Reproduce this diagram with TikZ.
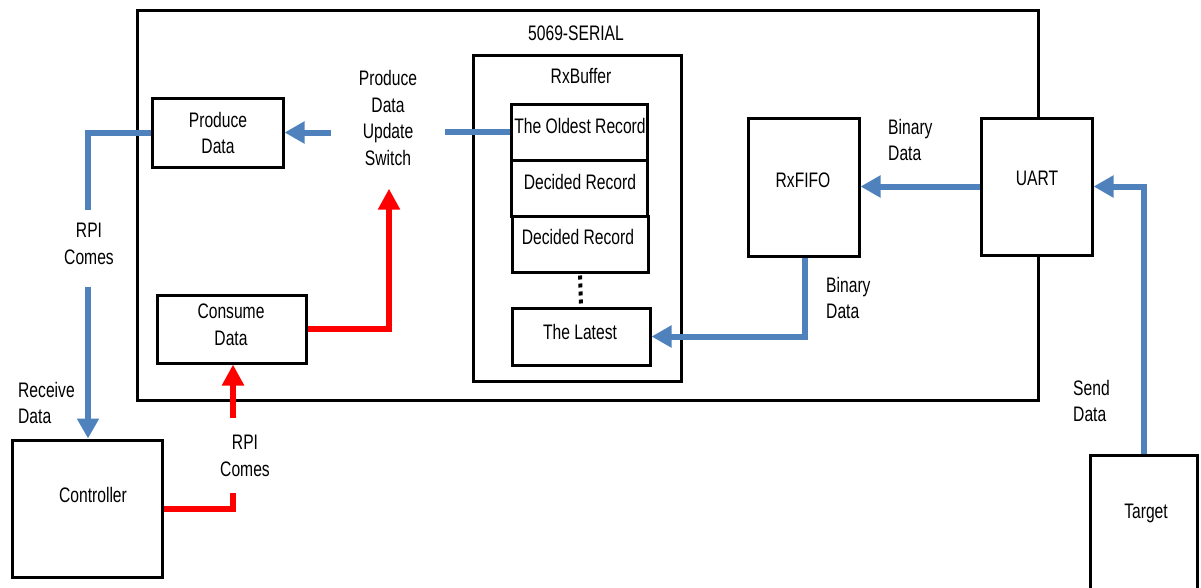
\documentclass[tikz,border=0pt]{standalone}
\usepackage{fontspec}
\setmainfont{Liberation Sans}[FakeStretch=0.745]
\usetikzlibrary{arrows.meta}
\definecolor{cblue}{RGB}{79,129,189}
\definecolor{cred}{RGB}{255,0,0}
\begin{document}
\begin{tikzpicture}[x=1pt,y=-1pt,
  box/.style={draw, line width=3pt, fill=white, inner sep=0pt, rectangle},
  lbl/.style={font=\fontsize{21}{26.5}\selectfont, align=center, inner sep=0pt},
  lbll/.style={lbl, align=left, anchor=west},
  bline/.style={draw=cblue, line width=6pt},
  barrow/.style={bline, -{Triangle[length=20pt,width=21pt]}},
  rline/.style={draw=cred, line width=6pt},
  rarrow/.style={rline, -{Triangle[length=21pt,width=21pt]}}
]
\useasboundingbox (0,0) rectangle (1201,587);
% outer container
\node[draw, line width=3pt, rectangle, inner sep=0pt, minimum width=901pt, minimum height=390pt] (serial) at (587.5,205) {};
\node[lbl] (serialt) at (576,33) {5069-SERIAL};

% boxes
\node[box, minimum width=131pt, minimum height=69pt] (pd) at (217.5,132.5) {};
\node[box, minimum width=149pt, minimum height=68pt] (cd) at (231.5,329) {};
\node[box, minimum width=150pt, minimum height=137pt] (ctrl) at (87,508.5) {};
\node[box, minimum width=208pt, minimum height=326pt] (rxbuf) at (577,218) {};
\node[box, minimum width=136pt, minimum height=56pt] (old) at (579,132) {};
\node[box, minimum width=136pt, minimum height=56pt] (dec1) at (579,188) {};
\node[box, minimum width=136pt, minimum height=56pt] (dec2) at (580,244) {};
\node[box, minimum width=138pt, minimum height=57pt] (latest) at (581,336.5) {};
\node[box, minimum width=111pt, minimum height=138pt] (fifo) at (803.5,187) {};
\node[box, minimum width=111pt, minimum height=137pt] (uart) at (1036.5,186.5) {};
\node[box, minimum width=107pt, minimum height=145pt] (target) at (1143.5,527.5) {};

% box texts
\node[lbl] (pdt) at (218,133) {Produce\\Data};
\node[lbl] (cdt) at (231,325) {Consume\\Data};
\node[lbl] (ctrlt) at (93,495) {Controller};
\node[lbl] (rxbuft) at (581,76) {RxBuffer};
\node[lbl] (oldt) at (580,126) {The Oldest Record};
\node[lbl] (dec1t) at (580,182) {Decided Record};
\node[lbl] (dec2t) at (578,237) {Decided Record};
\node[lbl] (latt) at (580,332) {The Latest};
\node[lbl] (fifot) at (803,180) {RxFIFO};
\node[lbl] (uartt) at (1037,178) {UART};
\node[lbl] (tgtt) at (1146,513) {Target};

% free labels
\node[lbl, minimum width=114pt] (sw) at (388,118) {Produce\\Data\\Update\\Switch};
\node[lbl] (rpi1) at (89,244) {RPI\\Comes};
\node[lbl] (rpi2) at (245,456) {RPI\\Comes};
\node[lbll] (recv) at (18,403) {Receive\\Data};
\node[lbll] (bin1) at (888,140) {Binary\\Data};
\node[lbll] (bin2) at (826,298) {Binary\\Data};
\node[lbll] (send) at (1073,401) {Send\\Data};

% coordinates for split connectors
\coordinate (c1) at (88,210);
\coordinate (c2) at (88,287);
\coordinate (c3) at (233,493);
\coordinate (c4) at (233,418);

% connectors
\draw[bline] (pd.west) -| (c1);
\draw[barrow] (c2) -- (c2 |- ctrl.north);
\draw[rline] (ctrl.east) -| (c3);
\draw[rarrow] (c4) -- (c4 |- cd.south);
\draw[rarrow] (cd.east) -| ([shift={(1pt,-23pt)}]sw.south);
\draw[barrow] (pd.east -| sw.west) -- (pd.east);
\draw[bline] (old.west -| sw.east) -- (old.west);
\draw[line width=4pt, dash pattern=on 4pt off 4pt] (dec2.south) ++(0,2) -- (latest.north);
\draw[barrow] ([xshift=1.5pt]fifo.south) |- (latest.east);
\draw[barrow] (uart.west) -- (uart.west -| fifo.east);
\draw[barrow] (target.north) |- (uart.east);
\end{tikzpicture}
\end{document}
